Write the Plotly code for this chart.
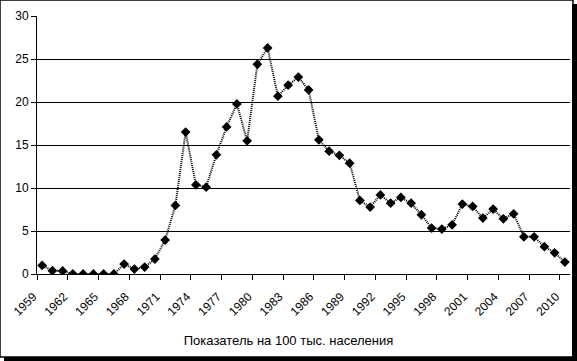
import plotly.graph_objects as go

years = [str(y) for y in range(1959, 2011)]
values = [1.0, 0.38, 0.35, 0.0, 0.0, 0.0, 0.0, 0.0, 1.16, 0.58,
          0.81, 1.74, 3.95, 7.97, 16.5, 10.37, 10.1, 13.86, 17.1, 19.78,
          15.48, 24.39, 26.28, 20.67, 21.95, 22.9, 21.4, 15.6, 14.28, 13.8,
          12.89, 8.55, 7.78, 9.2, 8.24, 8.9, 8.24, 6.89, 5.34, 5.22,
          5.72, 8.13, 7.85, 6.5, 7.55, 6.42, 7.0, 4.33, 4.33, 3.17,
          2.47, 1.39]
y_ticks = [0, 5, 10, 15, 20, 25, 30]
x_title = "Показатель на 100 тыс. населения"

W, H = 577, 361
L, R, T, B = 37, 7, 16, 87
pw, ph = W - L - R, H - T - B

def px_x(p):
    return (p - L) / pw

def px_y(p):
    return 1 - (p - T) / ph

fig = go.Figure()
fig.add_trace(go.Scatter(
    x=years, y=values, mode="lines+markers",
    line=dict(color="black", width=2, dash="1px,1px"),
    marker=dict(symbol="diamond", size=7.5, color="black"),
    showlegend=False,
))

font = dict(family="Liberation Sans, Arial, sans-serif", size=12, color="black")
title_font = dict(family="Liberation Sans, Arial, sans-serif", size=13, color="black")

fig.update_layout(
    width=W, height=H,
    margin=dict(l=L, r=R, t=T, b=B),
    paper_bgcolor="white", plot_bgcolor="white",
    font=font,
    title=dict(text=x_title, x=0.5, xref="container", xanchor="center",
               y=1 - 340.5 / H, yref="container", yanchor="middle",
               font=title_font),
    xaxis=dict(type="category", tickmode="linear", tick0=0, dtick=3,
               tickson="boundaries", ticks="outside", ticklen=5,
               tickcolor="black", tickangle=-45, showline=True,
               linecolor="black", linewidth=1, showgrid=False,
               range=[-0.5, len(years) - 0.5], tickfont=font,
               ticklabelstandoff=10, ticklabelshift=-9,
               automargin=False),
    yaxis=dict(range=[0, 30], tickvals=y_ticks, ticks="outside", ticklen=5,
               tickcolor="black", showline=True, linecolor="black",
               linewidth=1, showgrid=True, gridcolor="black", gridwidth=1,
               zeroline=False, tickfont=font, automargin=False),
    shapes=[
        dict(type="rect", xref="paper", yref="paper",
             x0=px_x(0), x1=px_x(573), y0=px_y(357), y1=px_y(0),
             line=dict(color="black", width=1.5), fillcolor="rgba(0,0,0,0)",
             layer="above"),
        dict(type="rect", xref="paper", yref="paper",
             x0=px_x(572), x1=px_x(577), y0=px_y(361), y1=px_y(4),
             fillcolor="black", line=dict(width=0), layer="above"),
        dict(type="rect", xref="paper", yref="paper",
             x0=px_x(4), x1=px_x(577), y0=px_y(361), y1=px_y(357),
             fillcolor="black", line=dict(width=0), layer="above"),
    ],
)

fig.write_html("out.html", config={"displayModeBar": False},
               post_script="document.body.style.margin='0';document.body.style.overflow='hidden';")
